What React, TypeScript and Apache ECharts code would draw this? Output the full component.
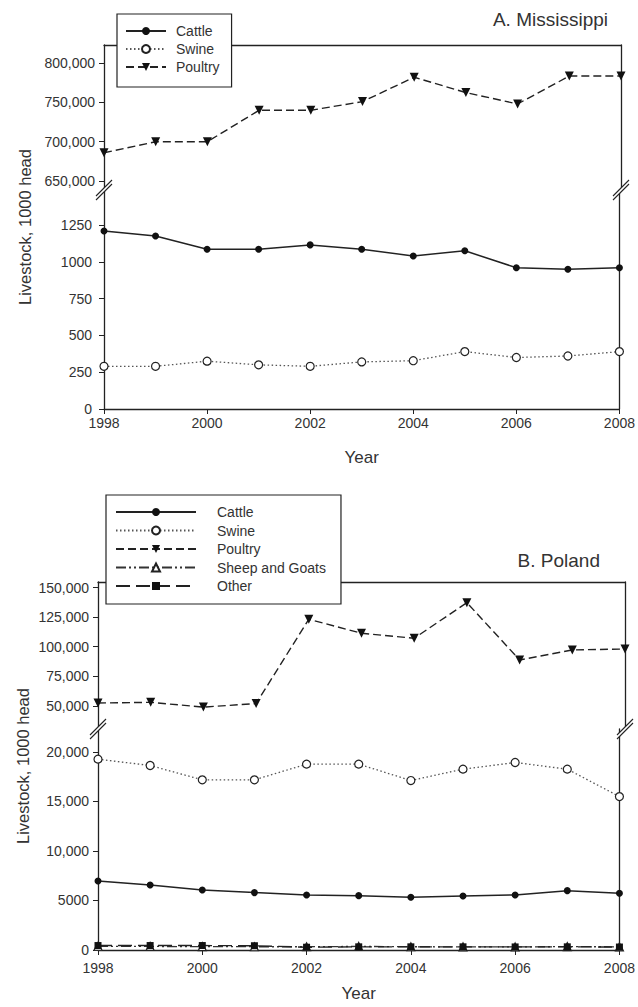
import React, { useEffect, useRef } from "react";
import * as echarts from "echarts";

const years = [1998, 1999, 2000, 2001, 2002, 2003, 2004, 2005, 2006, 2007, 2008];

// A. Mississippi (1000 head)
const msCattle = [1210, 1175, 1085, 1085, 1115, 1085, 1040, 1075, 960, 950, 960];
const msSwine = [290, 290, 325, 300, 290, 320, 328, 390, 350, 360, 390];
const msPoultry = [686000, 700000, 700000, 740000, 740000, 751000, 782000, 762500, 748000, 783500, 783500];

// B. Poland (1000 head)
const plCattle = [6970, 6565, 6060, 5790, 5555, 5485, 5330, 5450, 5555, 5990, 5730];
const plSwine = [19260, 18615, 17170, 17170, 18755, 18755, 17100, 18250, 18920, 18250, 15480];
const plPoultry = [52500, 53000, 49000, 52000, 123200, 111400, 107200, 137250, 88850, 97300, 98100];
const plSheep = [380, 360, 340, 330, 330, 360, 330, 320, 310, 340, 320];
const plOther = [450, 450, 450, 430, 280, 320, 320, 320, 310, 320, 300];

// Tick labels
const msUpperTicks = [650000, 700000, 750000, 800000];
const msLowerTicks = [0, 250, 500, 750, 1000, 1250];
const plUpperTicks = [50000, 75000, 100000, 125000, 150000];
const plLowerTicks = [0, 5000, 10000, 15000, 20000];

const FONT = "'Liberation Sans', Arial, Helvetica, sans-serif";
const TXT = "#333";
const AX = "#222";

const pts = (arr: number[]) => years.map((y, i) => [y, arr[i]]);
const fmtY = (v: number) => (v >= 10000 ? v.toLocaleString("en-US") : String(v));

const styles: Record<string, any> = {
  Cattle: {
    symbol: "circle",
    symbolSize: 7,
    itemStyle: { color: "#111" },
    lineStyle: { color: "#222", width: 1.5, type: "solid" },
  },
  Swine: {
    symbol: "circle",
    symbolSize: 8,
    itemStyle: { color: "#fff", borderColor: "#222", borderWidth: 1.2 },
    lineStyle: { color: "#555", width: 1.3, type: [1.5, 2.5] },
  },
  Poultry: {
    symbol: "triangle",
    symbolRotate: 180,
    symbolSize: 9,
    itemStyle: { color: "#111" },
    lineStyle: { color: "#222", width: 1.4, type: [8, 4] },
  },
  "Sheep and Goats": {
    symbol: "triangle",
    symbolSize: 8,
    itemStyle: { color: "#fff", borderColor: "#222", borderWidth: 1.2 },
    lineStyle: { color: "#333", width: 1.3, type: [10, 3, 2, 3, 2, 3] },
  },
  Other: {
    symbol: "rect",
    symbolSize: 7,
    itemStyle: { color: "#111" },
    lineStyle: { color: "#222", width: 1.4, type: [14, 6] },
  },
};

function series(name: string, arr: number[], axis: number) {
  return {
    type: "line",
    name,
    data: pts(arr),
    xAxisIndex: axis,
    yAxisIndex: axis,
    showSymbol: true,
    ...styles[name],
  };
}

function breakMark(x: number, y: number) {
  return {
    type: "group",
    z: 100,
    children: [
      {
        type: "polygon",
        z: 100,
        shape: { points: [[x - 8, y + 10], [x + 8, y - 6], [x + 8, y - 10], [x - 8, y + 6]] },
        style: { fill: "#fff" },
      },
      {
        type: "line",
        z: 101,
        shape: { x1: x - 8, y1: y + 10, x2: x + 8, y2: y - 6 },
        style: { stroke: AX, lineWidth: 1.1 },
      },
      {
        type: "line",
        z: 101,
        shape: { x1: x - 8, y1: y + 6, x2: x + 8, y2: y - 10 },
        style: { stroke: AX, lineWidth: 1.1 },
      },
    ],
  };
}

const grids = [
  { left: 104, right: 17, top: 45, height: 145 },
  { left: 104, right: 17, top: 190, height: 219 },
  { left: 98, right: 13, top: 582, height: 147 },
  { left: 98, right: 13, top: 729, height: 221 },
];

const yRanges = [
  [638600, 823000, msUpperTicks],
  [0, 1488, msLowerTicks],
  [30500, 154700, plUpperTicks],
  [0, 22300, plLowerTicks],
] as const;

function buildOption() {
  const xAxis: any[] = [];
  const yAxis: any[] = [];
  grids.forEach((_, i) => {
    const isBottom = i % 2 === 1;
    xAxis.push({
      type: "value",
      gridIndex: i,
      min: 1998,
      max: 2008,
      interval: 2,
      position: isBottom ? "bottom" : "top",
      axisLine: { show: true, onZero: false, lineStyle: { color: AX, width: 1.3 } },
      axisTick: { show: isBottom, length: 5, lineStyle: { color: AX } },
      axisLabel: {
        show: isBottom,
        formatter: (v: number) => String(v),
        fontSize: 14,
        color: TXT,
        fontFamily: FONT,
        margin: i === 1 ? 7 : 11,
      },
      splitLine: { show: false },
      name: isBottom ? "Year" : "",
      nameLocation: "middle",
      nameGap: i === 1 ? 40 : 35,
      nameTextStyle: { fontSize: 17, color: TXT, fontFamily: FONT },
    });
  });
  grids.forEach((_, i) => {
    const [mn, mx, ticks] = yRanges[i];
    yAxis.push({
      type: "value",
      gridIndex: i,
      min: mn,
      max: mx,
      position: "left",
      axisLine: { show: true, onZero: false, lineStyle: { color: AX, width: 1.3 } },
      axisTick: { show: true, length: 5, customValues: ticks as any, lineStyle: { color: AX } },
      axisLabel: {
        show: true,
        customValues: ticks as any,
        formatter: fmtY,
        fontSize: 14,
        color: TXT,
        fontFamily: FONT,
        margin: i === 1 ? 12 : 9,
      },
      splitLine: { show: false },
    });
  });
  grids.forEach((_, i) => {
    yAxis.push({
      type: "value",
      gridIndex: i,
      min: 0,
      max: 1,
      position: "right",
      axisLine: { show: true, onZero: false, lineStyle: { color: AX, width: 1.3 } },
      axisTick: { show: false },
      axisLabel: { show: false },
      splitLine: { show: false },
    });
  });

  const legendCommon = {
    orient: "vertical",
    selectedMode: false,
    backgroundColor: "#fff",
    borderColor: AX,
    borderWidth: 1.2,
    borderRadius: 0,
    itemHeight: 10,
    z: 20,
  };

  return {
    animation: false,
    backgroundColor: "#fff",
    textStyle: { fontFamily: FONT },
    title: [
      {
        text: "A. Mississippi",
        right: 30,
        top: 10,
        padding: 0,
        textStyle: { fontSize: 19, fontWeight: "normal", color: TXT, fontFamily: FONT },
      },
      {
        text: "B. Poland",
        right: 38,
        top: 551,
        padding: 0,
        textStyle: { fontSize: 19, fontWeight: "normal", color: TXT, fontFamily: FONT },
      },
    ],
    legend: [
      {
        ...legendCommon,
        left: 117,
        top: 14,
        data: ["Cattle", "Swine", "Poultry"],
        itemWidth: 40,
        itemGap: 4,
        padding: [10, 12, 13, 8],
        textStyle: { fontSize: 14, color: TXT, fontFamily: FONT, padding: [0, 0, 0, 5] },
      },
      {
        ...legendCommon,
        left: 106,
        top: 495,
        data: ["Cattle", "Swine", "Poultry", "Sheep and Goats", "Other"],
        itemWidth: 80,
        itemGap: 4.5,
        padding: [10, 15, 11, 9],
        textStyle: { fontSize: 14, color: TXT, fontFamily: FONT, padding: [0, 0, 0, 16] },
      },
    ],
    grid: grids,
    xAxis,
    yAxis,
    series: [
      series("Poultry", msPoultry, 0),
      series("Cattle", msCattle, 1),
      series("Swine", msSwine, 1),
      series("Poultry", plPoultry, 2),
      series("Swine", plSwine, 3),
      series("Cattle", plCattle, 3),
      series("Sheep and Goats", plSheep, 3),
      series("Other", plOther, 3),
    ],
    graphic: [
      breakMark(104, 190),
      breakMark(621, 190),
      breakMark(98, 729),
      breakMark(625, 729),
      {
        type: "text",
        x: 25,
        y: 227,
        rotation: Math.PI / 2,
        z: 50,
        style: {
          text: "Livestock, 1000 head",
          fontSize: 16.5,
          fill: TXT,
          fontFamily: FONT,
          align: "center",
          verticalAlign: "middle",
        },
      },
      {
        type: "text",
        x: 23,
        y: 766,
        rotation: Math.PI / 2,
        z: 50,
        style: {
          text: "Livestock, 1000 head",
          fontSize: 16.5,
          fill: TXT,
          fontFamily: FONT,
          align: "center",
          verticalAlign: "middle",
        },
      },
    ],
  };
}

export default function App() {
  const ref = useRef<HTMLDivElement>(null);
  useEffect(() => {
    document.body.style.margin = "0";
    if (!ref.current) return;
    const chart = echarts.init(ref.current, undefined, { renderer: "svg" });
    chart.setOption(buildOption() as any);
    return () => chart.dispose();
  }, []);
  return <div ref={ref} style={{ width: 638, height: 1007 }} />;
}
